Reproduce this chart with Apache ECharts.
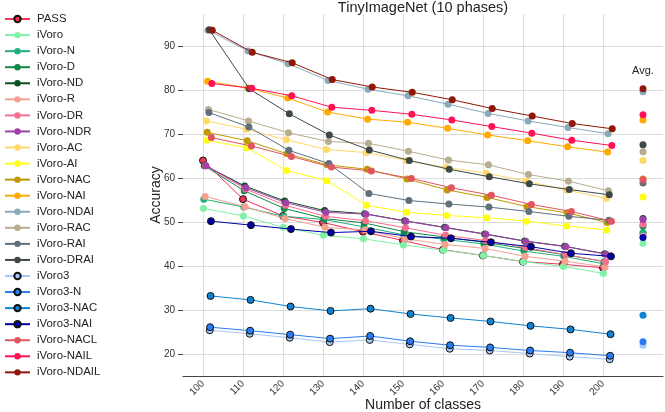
<!DOCTYPE html>
<html>
<head>
<meta charset="utf-8">
<script src="https://cdn.jsdelivr.net/npm/echarts@6/dist/echarts.min.js"></script>
<style>html,body{margin:0;padding:0;background:#fff;}#c{width:665px;height:412px;}</style>
</head>
<body>
<div id="c"></div>
<script>
const classes = [100, 110, 120, 130, 140, 150, 160, 170, 180, 190, 200];
const avgX = 210;
const seriesNames = ['PASS','iVoro','iVoro-N','iVoro-D','iVoro-ND','iVoro-R','iVoro-DR','iVoro-NDR','iVoro-AC','iVoro-AI','iVoro-NAC','iVoro-NAI','iVoro-NDAI','iVoro-RAC','iVoro-RAI','iVoro-DRAI','iVoro3','iVoro3-N','iVoro3-NAC','iVoro3-NAI','iVoro-NACL','iVoro-NAIL','iVoro-NDAIL'];

const vPASS      = [64.0, 55.2, 51.4, 49.9, 47.8, 45.8, 43.7, 42.4, 41.0, 40.4, 39.6];
const vIVoro     = [53.1, 51.4, 48.8, 47.0, 46.2, 44.8, 43.6, 42.4, 41.0, 39.9, 38.3];
const vN         = [55.2, 53.4, 51.3, 50.6, 48.9, 47.1, 46.1, 45.0, 43.4, 42.2, 40.5];
const vD         = [62.8, 57.1, 53.1, 50.8, 49.8, 47.8, 46.6, 45.4, 44.0, 42.6, 41.0];
const vND        = [62.9, 58.2, 54.8, 52.6, 51.9, 50.3, 48.8, 47.3, 45.7, 44.5, 42.8];
const vR         = [55.8, 53.5, 50.8, 48.8, 48.2, 46.2, 44.9, 44.0, 42.2, 41.1, 39.8];
const vDR        = [62.8, 57.5, 53.8, 51.3, 50.3, 48.7, 47.0, 45.8, 44.2, 42.6, 41.0];
const vNDR       = [62.8, 57.8, 54.4, 52.2, 51.8, 50.2, 48.7, 47.2, 45.6, 44.4, 42.7];
const vAC        = [73.0, 71.1, 68.7, 66.5, 65.8, 64.0, 62.4, 61.1, 59.3, 57.3, 55.4];
const vAI        = [68.6, 66.9, 61.7, 59.4, 53.8, 52.2, 51.5, 51.0, 50.2, 49.1, 48.2];
const vNAC       = [70.4, 68.5, 65.5, 63.0, 62.0, 59.8, 57.3, 55.6, 53.5, 52.1, 49.9];
const vNAI       = [82.0, 80.5, 78.2, 75.0, 73.4, 72.7, 71.3, 69.8, 68.5, 67.1, 65.9];
const vNDAI      = [93.6, 88.9, 86.0, 82.2, 80.2, 78.7, 76.8, 74.7, 73.0, 71.5, 70.1];
const vRAC       = [75.6, 73.0, 70.3, 68.3, 67.9, 66.1, 64.1, 63.0, 60.8, 59.3, 57.1];
const vRAI       = [74.9, 71.6, 66.3, 63.3, 56.5, 54.9, 54.1, 53.4, 52.4, 51.3, 50.4];
const vDRAI      = [93.7, 80.3, 74.6, 69.8, 66.4, 64.0, 62.0, 60.3, 58.7, 57.4, 56.2];
const v3         = [25.4, 24.6, 23.7, 22.7, 23.2, 22.2, 21.2, 20.8, 20.1, 19.4, 18.8];
const v3N        = [26.1, 25.3, 24.4, 23.5, 24.1, 22.9, 22.0, 21.5, 20.8, 20.3, 19.6];
const v3NAC      = [33.2, 32.3, 30.8, 29.8, 30.3, 29.1, 28.2, 27.4, 26.4, 25.6, 24.5];
const v3NAI      = [50.2, 49.3, 48.4, 47.6, 47.9, 46.7, 46.3, 45.4, 44.4, 42.9, 42.2];
const vNACL      = [69.2, 67.3, 64.9, 62.5, 61.6, 59.9, 57.8, 56.1, 54.0, 52.4, 50.2];
const vNAIL      = [81.5, 80.4, 78.7, 76.1, 75.4, 74.5, 73.2, 71.7, 70.2, 68.6, 67.4];
const vNDAIL     = [93.6, 88.6, 86.2, 82.4, 80.7, 79.5, 77.8, 75.8, 74.1, 72.4, 71.2];

const avgValues = [47.4, 45.2, 47.6, 49.1, 50.8, 46.8, 49.5, 50.6, 64.0, 55.7, 59.8, 73.2, 79.6, 66.0, 58.9, 67.6, 22.0, 22.8, 28.8, 46.5, 59.6, 74.4, 80.3];
const yTicks = [20, 30, 40, 50, 60, 70, 80, 90];

const allValues = [vPASS, vIVoro, vN, vD, vND, vR, vDR, vNDR, vAC, vAI, vNAC, vNAI, vNDAI, vRAC, vRAI, vDRAI, v3, v3N, v3NAC, v3NAI, vNACL, vNAIL, vNDAIL];

const colors = ['#ee3355','#80f2a6','#22b07a','#118848','#0b4f22','#f5a090','#f57090','#a040a8','#ffd966','#ffff10','#c09800','#ffaa00','#8aaabb','#b8ad8e','#5f707c','#3f4848','#a8c8f8','#2a7cf0','#1082d0','#0000a8','#e05560','#ff1155','#901808'];
const edged = {'PASS':1,'iVoro3':1,'iVoro3-N':1,'iVoro3-NAC':1,'iVoro3-NAI':1};
const dodge = 0.105;
const FONT = 'Liberation Sans';

const chart = echarts.init(document.getElementById('c'), null, {renderer: 'canvas'});

const series = seriesNames.map((name, i) => {
  const data = classes.map((x, j) => [x + i * dodge, allValues[i][j]]);
  data.push([205, null]);
  data.push({value: [avgX, avgValues[i]], itemStyle: {borderWidth: 0, borderColor: colors[i]}});
  return {
    name: name,
    type: 'line',
    data: data,
    connectNulls: false,
    symbol: 'circle',
    symbolSize: 7,
    showSymbol: true,
    showAllSymbol: true,
    lineStyle: {color: colors[i], width: 1},
    itemStyle: {
      color: colors[i],
      borderColor: edged[name] ? '#111' : colors[i],
      borderWidth: edged[name] ? 1 : 0
    },
    emphasis: {disabled: true},
    z: 2 + i
  };
});

chart.setOption({
  animation: false,
  backgroundColor: '#fff',
  title: {
    text: 'TinyImageNet (10 phases)',
    left: 423, top: 0, textAlign: 'center', padding: 0,
    textStyle: {fontFamily: FONT, fontSize: 14.5, fontWeight: 'normal', color: '#222'}
  },
  legend: {
    orient: 'vertical', left: 4, top: 11, padding: 0,
    itemWidth: 25, itemHeight: 8, itemGap: 0,
    data: seriesNames,
    textStyle: {fontFamily: FONT, fontSize: 11.4, color: '#222', lineHeight: 16.06, padding: [0,0,0,2]},
    selectedMode: false
  },
  grid: {left: 183, right: 2, top: 14, bottom: 36, containLabel: false, outerBoundsMode: 'none'},
  xAxis: {
    type: 'value', min: 95, max: 215,
    name: 'Number of classes', nameLocation: 'middle', nameGap: 22, nameMoveOverlap: false,
    nameTextStyle: {fontFamily: FONT, fontSize: 14, color: '#222'},
    axisLine: {show: true, lineStyle: {color: '#444', width: 1}},
    axisTick: {show: false, customValues: classes},
    axisLabel: {customValues: classes, rotate: 45, fontFamily: FONT, fontSize: 10, color: '#333', margin: 6},
    splitLine: {show: true, lineStyle: {color: '#dcdcdc', width: 1}}
  },
  yAxis: {
    type: 'value', min: 15, max: 97.3,
    name: 'Accuracy', nameLocation: 'middle', nameGap: 20, nameMoveOverlap: false,
    nameTextStyle: {fontFamily: FONT, fontSize: 14, color: '#222'},
    axisLine: {show: false},
    axisTick: {show: true, customValues: yTicks, length: 5, lineStyle: {color: '#444'}},
    axisLabel: {customValues: yTicks, fontFamily: FONT, fontSize: 10, color: '#333', margin: 8},
    splitLine: {show: true, lineStyle: {color: '#dcdcdc', width: 1}}
  },
  series: series
});

const p = chart.convertToPixel({xAxisIndex: 0, yAxisIndex: 0}, [avgX, 84.4]);
chart.setOption({
  graphic: [{
    type: 'text', x: p[0], y: p[1],
    style: {text: 'Avg.', fontFamily: FONT, fontSize: 11, fill: '#222', align: 'center', verticalAlign: 'middle'}
  }]
});
</script>
</body>
</html>
